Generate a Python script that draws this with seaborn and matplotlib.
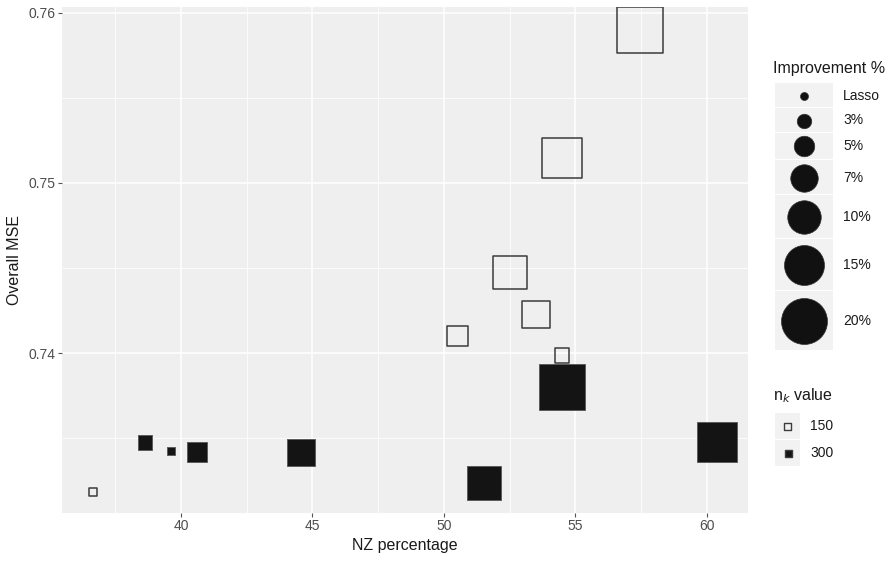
"""
Gráfico de dispersão: MSE global vs percentagem NZ, por melhoria e n_k.
"""

import pandas as pd
import numpy as np
import matplotlib.pyplot as plt
import seaborn as sns
from matplotlib.patches import Rectangle

# Dados
niveis_melhoria = ['Lasso', '3%', '5%', '7%', '10%', '15%', '20%']
diametros_px = [8, 14.5, 20.5, 27.5, 33.5, 40, 46]

nz_150 = [36.67, 50.51, 54.49, 53.50, 52.51, 54.50, 57.45]
mse_150 = [0.73182, 0.74100, 0.73985, 0.74226, 0.74474, 0.75147, 0.75900]
imp_150 = ['Lasso', '5%', '3%', '7%', '10%', '15%', '20%']

nz_300 = [38.63, 39.62, 40.61, 44.56, 51.52, 60.40, 54.47]
mse_300 = [0.73474, 0.73421, 0.73418, 0.73415, 0.73235, 0.73479, 0.73800]
imp_300 = ['3%', 'Lasso', '5%', '7%', '10%', '15%', '20%']

nk_labels = ['150', '300']

DPI = 100
PX2PT = 72 / DPI

sns.set_style('darkgrid', {
    'axes.facecolor': '#EFEFEF',
    'grid.color': 'white',
    'axes.edgecolor': '#EFEFEF',
})
plt.rcParams['font.family'] = ['Liberation Sans', 'DejaVu Sans']

# tamanho (pt^2) para cada nível de melhoria
size_map = {lv: (d * PX2PT) ** 2 for lv, d in zip(niveis_melhoria, diametros_px)}

df150 = pd.DataFrame({'nz': nz_150, 'mse': mse_150, 'imp': imp_150})
df300 = pd.DataFrame({'nz': nz_300, 'mse': mse_300, 'imp': imp_300})

fig = plt.figure(figsize=(894 / DPI, 563 / DPI), dpi=DPI)
ax = fig.add_axes([62 / 894, 1 - 513 / 563, (748 - 62) / 894, (513 - 7) / 563])

sns.scatterplot(data=df150, x='nz', y='mse', size='imp', sizes=size_map,
                size_order=niveis_melhoria, marker='s', facecolor='none',
                edgecolor='#3c3c3c', linewidth=1.1, legend=False, ax=ax, zorder=3)
sns.scatterplot(data=df300, x='nz', y='mse', size='imp', sizes=size_map,
                size_order=niveis_melhoria, marker='s', facecolor='#141414',
                edgecolor='#555555', linewidth=0.6, legend=False, ax=ax, zorder=3)

ax.set_xlim(35.48, 61.56)
ax.set_ylim(0.73059, 0.76035)
ax.set_xticks([40, 45, 50, 55, 60])
ax.set_xticks([37.5, 42.5, 47.5, 52.5, 57.5], minor=True)
ax.set_yticks([0.74, 0.75, 0.76])
ax.set_yticks([0.735, 0.745, 0.755], minor=True)
ax.set_yticklabels(['0.74', '0.75', '0.76'])
ax.grid(which='major', color='white', linewidth=1.1)
ax.grid(which='minor', color='white', linewidth=0.55)
ax.tick_params(which='major', length=2.6, width=0.8, color='#555555',
               labelsize=10, labelcolor='#4D4D4D', pad=2)
ax.tick_params(which='minor', length=0)
ax.tick_params(axis='both', which='major', bottom=True, left=True)
for s in ax.spines.values():
    s.set_visible(False)

ax.set_xlabel('NZ percentage', fontsize=11.5, color='#1a1a1a', labelpad=3)
ax.set_ylabel('Overall MSE', fontsize=11.5, color='#1a1a1a', labelpad=5)

# Legendas no estilo ggplot (camada em coordenadas de pixel da figura)
lg = fig.add_axes([0, 0, 1, 1], facecolor='none')
lg.set_xlim(0, 894)
lg.set_ylim(563, 0)
lg.axis('off')

lg.text(773, 68, 'Improvement %', fontsize=11.5, color='#1a1a1a', va='center', ha='left')
key_w = 58
y0 = 83
for lv, d in zip(niveis_melhoria, diametros_px):
    h = max(25, d * 1.3)
    lg.add_patch(Rectangle((775, y0), key_w, h - 1, facecolor='#F2F2F2', edgecolor='none'))
    lg.scatter([775 + key_w / 2], [y0 + h / 2], s=size_map[lv], marker='o',
               color='#111111', edgecolor='#333333', linewidth=0.5)
    lg.text(843, y0 + h / 2, lv, fontsize=10, color='#1a1a1a', va='center', ha='left')
    y0 += h

lg.text(773, 396, r'n$_k$ value', fontsize=11.5, color='#1a1a1a', va='center', ha='left')
y0 = 413
for lab, filled in zip(nk_labels, [False, True]):
    lg.add_patch(Rectangle((775, y0), 25, 26, facecolor='#F2F2F2', edgecolor='none'))
    lg.scatter([787.5], [y0 + 13], s=(7 * PX2PT) ** 2, marker='s',
               facecolor='#141414' if filled else 'none',
               edgecolor='#3c3c3c', linewidth=1.0)
    lg.text(810, y0 + 13, lab, fontsize=10, color='#1a1a1a', va='center', ha='left')
    y0 += 27

fig.savefig('out.png', dpi=DPI)
plt.close(fig)
